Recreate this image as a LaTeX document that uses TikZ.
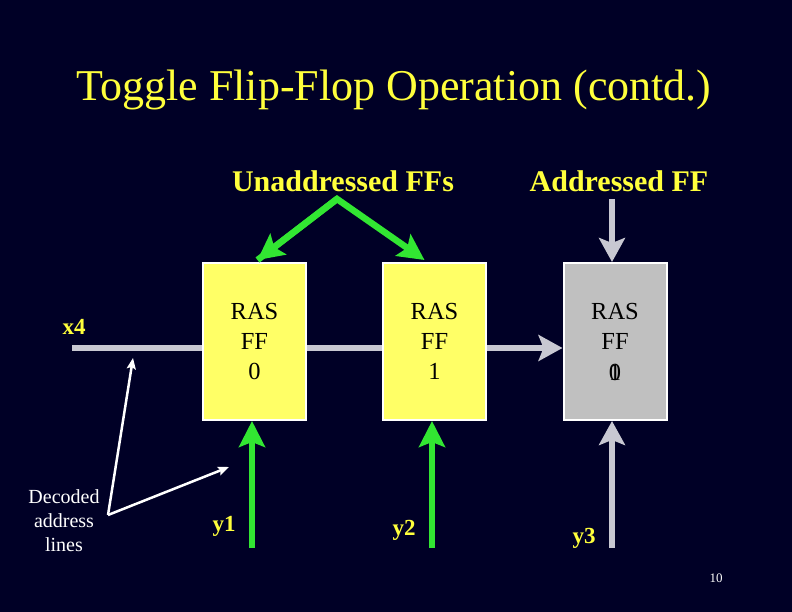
\documentclass[tikz,border=0pt]{standalone}
\usepackage{fontspec}
\setmainfont{Liberation Serif}
\usetikzlibrary{arrows.meta,calc}
\definecolor{bg}{RGB}{0,0,38}
\definecolor{ffyellow}{RGB}{255,255,102}
\definecolor{ffgray}{RGB}{192,192,192}
\definecolor{lblyellow}{RGB}{255,255,60}
\definecolor{agreen}{RGB}{50,230,50}
\definecolor{lgray}{RGB}{200,200,210}
\tikzset{
  ffbox/.style={draw=white, line width=2pt, minimum width=103pt, minimum height=157pt, inner sep=0pt, align=center, font=\fontsize{24.5}{30}\selectfont},
  ylabel/.style={text=lblyellow, font=\fontsize{23}{26}\selectfont\bfseries},
  greenarrow/.style={draw=agreen, line width=6.5pt, -{Stealth[length=26pt,width=26pt,inset=5pt]}},
  grayarrow/.style={draw=lgray, line width=6pt, -{Stealth[length=24pt,width=26pt,inset=5pt]}},
  whitearrow/.style={draw=white, line width=2.5pt, -{Stealth[length=11pt,width=9pt,inset=2pt]}},
}
\begin{document}
\begin{tikzpicture}[x=1pt,y=-1pt]
\fill[bg] (0,0) rectangle (792,612);
\useasboundingbox (0,0) rectangle (792,612);

\node[text=lblyellow, font=\fontsize{44}{48}\selectfont] (title) at (394,90) {Toggle Flip-Flop Operation (contd.)};
\node[text=lblyellow, font=\fontsize{30}{34}\selectfont\bfseries] (unadd) at (343,181) {Unaddressed FFs};
\node[text=lblyellow, font=\fontsize{30}{34}\selectfont\bfseries] (add) at (619,181) {Addressed FF};

\node[ylabel] (x4) at (74,327) {x4};
\coordinate (hstart) at (72,348);

% boxes placed (drawn later over the line)
\path (254.5,341.5) node[ffbox, fill=ffyellow] (ff0) {RAS\\FF\\0};
\path (434.5,341.5) node[ffbox, fill=ffyellow] (ff1) {RAS\\FF\\1};
\path (615,341.5) node[ffbox, fill=ffgray] (ff2) {RAS\\FF\\\phantom{0}};

\draw[grayarrow] (hstart) -- (hstart -| ff2.west);
\path (254.5,341.5) node[ffbox, fill=ffyellow] {RAS\\FF\\0};
\path (434.5,341.5) node[ffbox, fill=ffyellow] {RAS\\FF\\1};
\node[font=\fontsize{24.5}{30}\selectfont] (z0) at (615,372) {0};
\node[font=\fontsize{24.5}{30}\selectfont] (z1) at (615,372) {1};

% green arrows from label
\coordinate (apex) at (337,199);
\draw[greenarrow, line join=miter] ($(ff0.north)+(3,-2)$) -- (apex) -- ($(ff1.north)+(-10,-2)$);
\draw[greenarrow] (apex) -- ($(ff0.north)+(3,-2)$);

% top gray arrow
\coordinate (t2) at (612,199);
\draw[grayarrow] (t2) -- (t2 |- ff2.north);

% bottom arrows
\coordinate (b0) at (252,548);
\coordinate (b1) at (432,548);
\coordinate (b2) at (612,548);
\draw[greenarrow] (b0) -- (b0 |- ff0.south);
\draw[greenarrow] (b1) -- (b1 |- ff1.south);
\draw[grayarrow] (b2) -- (b2 |- ff2.south);

\node[ylabel] (y1) at (224,526) {y1};
\node[ylabel] (y2) at (404,530) {y2};
\node[ylabel] (y3) at (584,538) {y3};

% decoded address lines
\node[text=white, align=center, font=\fontsize{20}{24}\selectfont] (dec) at (64,521) {Decoded\\address\\lines};
\coordinate (v) at (108,515);
\coordinate (w1) at (133,358);
\coordinate (w2) at (229,467);
\draw[whitearrow] (v) -- (w1);
\draw[whitearrow] (v) -- (w2);

\node[text=white, font=\fontsize{13}{15}\selectfont] (pg) at (716,578) {10};
\end{tikzpicture}
\end{document}
